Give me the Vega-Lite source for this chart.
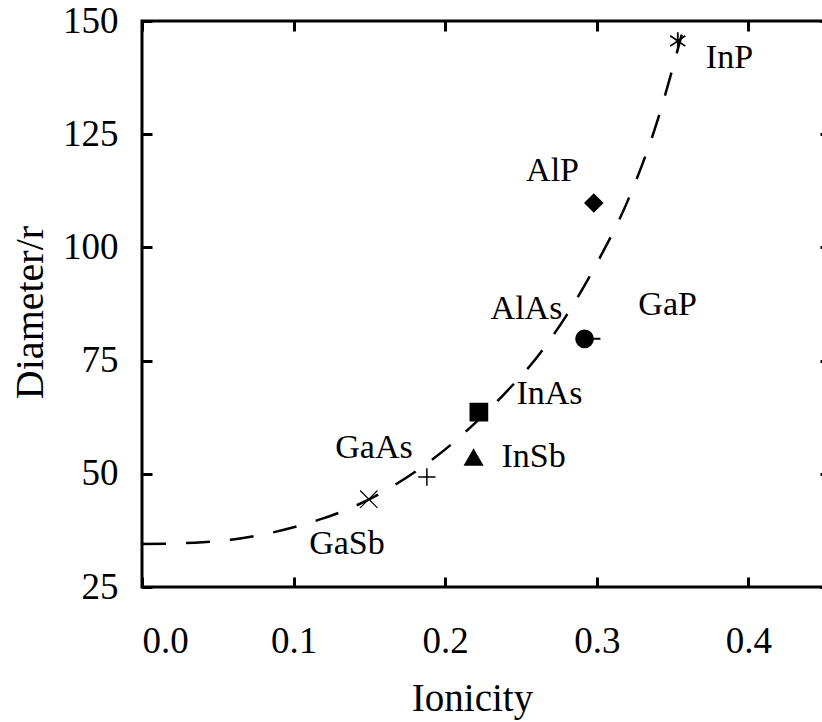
{
  "$schema": "https://vega.github.io/schema/vega-lite/v6.json",
  "autosize": "none",
  "width": 688,
  "height": 566,
  "padding": {"left": 142, "top": 21, "right": 0, "bottom": 135},
  "background": "white",
  "config": {
    "view": {"stroke": "black", "strokeWidth": 3},
    "font": "Liberation Serif",
    "axis": {
      "domain": false,
      "grid": false,
      "tickColor": "black",
      "tickWidth": 3,
      "tickSize": -10,
      "labelFont": "Liberation Serif",
      "labelFontSize": 37,
      "labelColor": "black",
      "titleFont": "Liberation Serif",
      "titleFontWeight": "normal",
      "titleColor": "black"
    }
  },
  "datasets": {
    "curve": [
      {"x": 0.0, "y": 34.5},
      {"x": 0.02, "y": 34.6},
      {"x": 0.04, "y": 34.9},
      {"x": 0.06, "y": 35.5},
      {"x": 0.08, "y": 36.6},
      {"x": 0.10, "y": 38.2},
      {"x": 0.12, "y": 40.2},
      {"x": 0.14, "y": 42.8},
      {"x": 0.16, "y": 46.2},
      {"x": 0.18, "y": 50.4},
      {"x": 0.20, "y": 55.4},
      {"x": 0.22, "y": 61.3},
      {"x": 0.24, "y": 68.0},
      {"x": 0.26, "y": 75.5},
      {"x": 0.28, "y": 85.0},
      {"x": 0.30, "y": 96.5},
      {"x": 0.32, "y": 110.0},
      {"x": 0.34, "y": 128.0},
      {"x": 0.356, "y": 147.0}
    ],
    "points": [
      {"compound": "InP", "ionicity": 0.3534, "diameter": 145.6},
      {"compound": "AlP", "ionicity": 0.298, "diameter": 109.8},
      {"compound": "GaP", "ionicity": 0.2919, "diameter": 79.8},
      {"compound": "InAs", "ionicity": 0.2222, "diameter": 63.6},
      {"compound": "InSb", "ionicity": 0.2187, "diameter": 53.6},
      {"compound": "GaAs", "ionicity": 0.1879, "diameter": 49.3},
      {"compound": "GaSb", "ionicity": 0.1496, "diameter": 44.4}
    ],
    "labels": [
      {"compound": "InP", "lx": 0.3875, "ly": 141.9},
      {"compound": "AlP", "lx": 0.2708, "ly": 116.8},
      {"compound": "AlAs", "lx": 0.2536, "ly": 86.3},
      {"compound": "GaP", "lx": 0.3467, "ly": 87.2},
      {"compound": "InAs", "lx": 0.2688, "ly": 67.6},
      {"compound": "InSb", "lx": 0.2583, "ly": 53.8},
      {"compound": "GaAs", "lx": 0.153, "ly": 55.6},
      {"compound": "GaSb", "lx": 0.1352, "ly": 34.4}
    ]
  },
  "layer": [
    {
      "data": {"name": "curve"},
      "mark": {"type": "line", "color": "black", "strokeWidth": 2.5, "strokeDash": [24, 20], "interpolate": "monotone"},
      "encoding": {
        "x": {"field": "x", "type": "quantitative", "scale": {"domain": [0, 0.4538], "nice": false, "zero": false},
          "axis": {"orient": "bottom", "values": [0, 0.1, 0.2, 0.3, 0.4], "format": ".1f", "labelPadding": 46, "title": "Ionicity", "titleFontSize": 39, "titlePadding": 20, "titleX": 330}},
        "y": {"field": "y", "type": "quantitative", "scale": {"domain": [25, 150], "nice": false, "zero": false},
          "axis": {"orient": "left", "values": [25, 50, 75, 100, 125, 150], "labelPadding": 34, "title": "Diameter/r", "titleFontSize": 40, "titlePadding": 20, "titleBaseline": "alphabetic", "titleY": 291}}
      }
    },
    {
      "data": {"name": "points"},
      "transform": [{"filter": {"field": "compound", "oneOf": ["AlP", "GaP", "InAs", "InSb"]}}],
      "mark": {"type": "point", "filled": true, "color": "black", "stroke": "black", "strokeWidth": 2, "opacity": 1},
      "encoding": {
        "x": {"field": "ionicity", "type": "quantitative", "scale": {"domain": [0, 0.4538], "nice": false, "zero": false},
          "axis": {"orient": "top", "values": [0, 0.1, 0.2, 0.3, 0.4], "labels": false, "title": null}},
        "y": {"field": "diameter", "type": "quantitative", "scale": {"domain": [25, 150], "nice": false, "zero": false},
          "axis": {"orient": "right", "values": [25, 50, 75, 100, 125, 150], "labels": false, "title": null}},
        "shape": {"field": "compound", "type": "nominal", "legend": null,
          "scale": {"domain": ["AlP", "GaP", "InAs", "InSb"],
            "range": ["diamond", "M-1,0A1,1,0,1,1,1,0A1,1,0,1,1,-1,0ZM1,0L1.9,0", "square", "triangle-up"]}},
        "size": {"value": 280}
      }
    },
    {
      "data": {"name": "points"},
      "transform": [{"filter": {"field": "compound", "oneOf": ["InP", "GaAs", "GaSb"]}}],
      "mark": {"type": "point", "filled": false, "color": "black", "opacity": 1},
      "encoding": {
        "x": {"field": "ionicity", "type": "quantitative", "scale": {"domain": [0, 0.4538], "nice": false, "zero": false}, "axis": null},
        "y": {"field": "diameter", "type": "quantitative", "scale": {"domain": [25, 150], "nice": false, "zero": false}, "axis": null},
        "shape": {"field": "compound", "type": "nominal", "legend": null,
          "scale": {"domain": ["InP", "GaAs", "GaSb"],
            "range": ["M0,-1L0,1M-0.87,-0.6L0.87,0.6M-0.87,0.6L0.87,-0.6", "M-1,0L1,0M0,-1L0,1", "M-1,-1L1,1M-1,1L1,-1"]}},
        "strokeWidth": {"field": "compound", "type": "nominal", "legend": null,
          "scale": {"domain": ["InP", "GaAs", "GaSb"], "range": [1.8, 1.2, 1.2]}},
        "size": {"field": "compound", "type": "nominal", "legend": null,
          "scale": {"domain": ["InP", "GaAs", "GaSb"], "range": [300, 300, 180]}}
      }
    },
    {
      "data": {"name": "labels"},
      "mark": {"type": "text", "font": "Liberation Serif", "fontSize": 34, "color": "black", "align": "center", "baseline": "middle"},
      "encoding": {
        "x": {"field": "lx", "type": "quantitative", "scale": {"domain": [0, 0.4538], "nice": false, "zero": false}, "axis": null},
        "y": {"field": "ly", "type": "quantitative", "scale": {"domain": [25, 150], "nice": false, "zero": false}, "axis": null},
        "text": {"field": "compound"}
      }
    }
  ],
  "resolve": {
    "axis": {"x": "independent", "y": "independent"},
    "scale": {"shape": "independent", "size": "independent", "strokeWidth": "independent"}
  }
}
